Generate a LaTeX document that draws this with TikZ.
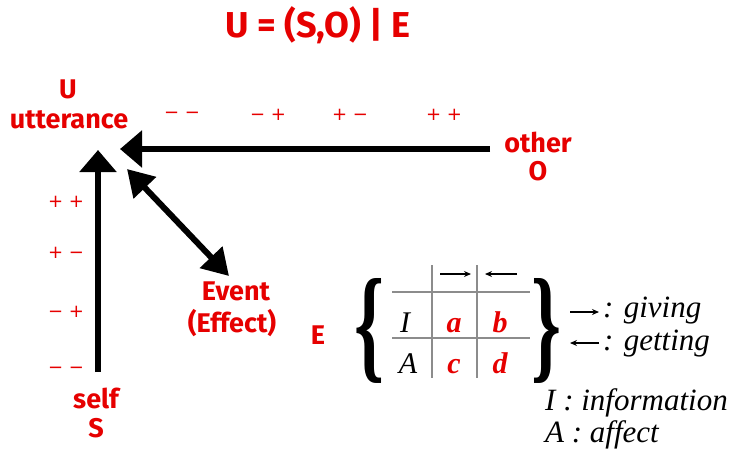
\documentclass[tikz,border=0pt]{standalone}
\usepackage{fontspec}
\setmainfont{Liberation Serif}
\newfontfamily\comic{Fira Sans}
\newfontfamily\signfont{DejaVu Sans}
\usetikzlibrary{arrows.meta}
\definecolor{myred}{RGB}{230,0,0}
\begin{document}
\begin{tikzpicture}[x=1pt,y=-1pt,
  lbl/.style={text=myred, font=\comic\bfseries\fontsize{27}{30}\selectfont, inner sep=0, anchor=base},
  sgn/.style={text=myred, font=\signfont\fontsize{18}{20}\selectfont, inner sep=0},
  bigarrow/.style={line width=6pt, -{Triangle[length=22pt,width=36pt]}},
  dblarrow/.style={line width=6pt, {Triangle[length=26pt,width=30pt]}-{Triangle[length=26pt,width=30pt]}},
  gridline/.style={draw=black!45, line width=1.5pt},
  smallarrow/.style={line width=1.1pt, -{Stealth[length=7pt,width=6pt]}},
  cell/.style={inner sep=0, anchor=base, font=\fontsize{30}{32}\selectfont\itshape},
  redcell/.style={cell, text=myred, font=\fontsize{30}{32}\selectfont\bfseries\itshape},
  legend/.style={inner sep=0, anchor=base west, font=\fontsize{31}{33}\selectfont\itshape},
  brace/.style={inner sep=0, font=\bfseries}
]
\useasboundingbox (0,0) rectangle (730,456);

% title
\node[lbl, font=\comic\bfseries\fontsize{36}{38}\selectfont] (title) at (318,37) {U = (S,O) | E};

% labels
\node[lbl] (u) at (68,98) {U};
\node[lbl] (utt) at (69,128) {utterance};
\node[lbl] (other) at (538,152) {other};
\node[lbl] (o) at (538,180) {O};
\node[lbl] (event) at (236,300) {Event};
\node[lbl] (effect) at (232,332) {(Effect)};
\node[lbl] (self) at (96,408) {self};
\node[lbl] (s) at (96,437) {S};
\node[lbl] (e) at (318,344) {E};

% sign labels
\node[sgn] (h1) at (182,115) {− −};
\node[sgn] (h2) at (268,115) {− +};
\node[sgn] (h3) at (350,115) {+ −};
\node[sgn] (h4) at (444,115) {+ +};
\node[sgn] (v1) at (66,202) {+ +};
\node[sgn] (v2) at (66,253) {+ −};
\node[sgn] (v3) at (66,312) {− +};
\node[sgn] (v4) at (66,370) {− −};

% arrows
\coordinate (otherend) at (490,149);
\coordinate (utip1) at (120,149);
\coordinate (selfend) at (98,372);
\coordinate (utip2) at (98,150);
\coordinate (utip3) at (127,169);
\coordinate (evtip) at (229,276);
\draw[bigarrow] (otherend) -- (utip1);
\draw[bigarrow] (selfend) -- (utip2);
\draw[dblarrow] (utip3) -- (evtip);

% braces
\node[brace] (lb) at (369,331) {\resizebox{30pt}{88pt}{\{}};
\node[brace] (rb) at (546,331) {\resizebox{30pt}{88pt}{\}}};

% grid
\coordinate (g1a) at (392,292); \coordinate (g1b) at (530,292);
\coordinate (g2a) at (392,338); \coordinate (g2b) at (530,338);
\coordinate (g3a) at (432,265); \coordinate (g3b) at (432,378);
\coordinate (g4a) at (477,265); \coordinate (g4b) at (477,378);
\draw[gridline] (g1a) -- (g1b);
\draw[gridline] (g2a) -- (g2b);
\draw[gridline] (g3a) -- (g3b);
\draw[gridline] (g4a) -- (g4b);

\coordinate (ga1) at (440,274); \coordinate (ga2) at (471,274);
\coordinate (gb1) at (517,274); \coordinate (gb2) at (485,274);
\draw[smallarrow] (ga1) -- (ga2);
\draw[smallarrow] (gb1) -- (gb2);

\node[cell] (ci) at (405,332) {I};
\node[redcell] (ca) at (454,332) {a};
\node[redcell] (cb) at (500,332) {b};
\node[cell] (cA) at (408,373) {A};
\node[redcell] (cc) at (454,373) {c};
\node[redcell] (cd) at (500,373) {d};

% legend
\coordinate (gv1) at (570,312); \coordinate (gv2) at (599,312);
\coordinate (gt1) at (599,343); \coordinate (gt2) at (570,343);
\draw[smallarrow] (gv1) -- (gv2);
\draw[smallarrow] (gt1) -- (gt2);
\node[legend] (giving) at (603,317) {: giving};
\node[legend] (getting) at (603,350) {: getting};
\node[legend] (info) at (545,410) {I : information};
\node[legend] (aff) at (545,442) {A : affect};
\end{tikzpicture}
\end{document}
